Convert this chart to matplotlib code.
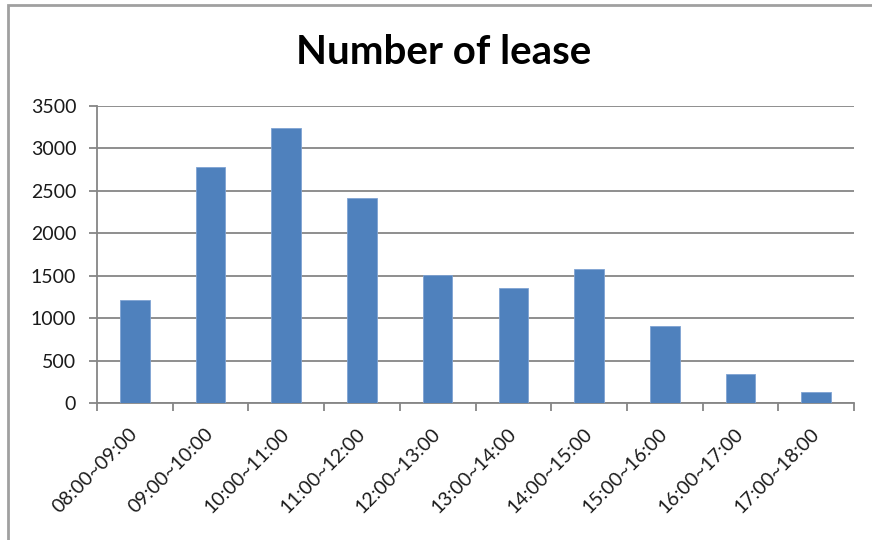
import matplotlib.pyplot as plt
import numpy as np
from matplotlib.patches import Rectangle

# lease counts per hour slot
slots = ['08:00~09:00', '09:00~10:00', '10:00~11:00', '11:00~12:00', '12:00~13:00',
         '13:00~14:00', '14:00~15:00', '15:00~16:00', '16:00~17:00', '17:00~18:00']
counts = [1210, 2780, 3240, 2410, 1510, 1360, 1585, 905, 345, 135]
yticks = [0, 500, 1000, 1500, 2000, 2500, 3000, 3500]

plt.rcParams['font.family'] = ['Lato', 'DejaVu Sans']

fig = plt.figure(figsize=(8.72, 5.4), dpi=100)
ax = fig.add_axes([97/872, 1 - 403/540, (854-97)/872, (403-106)/540])

x = np.arange(len(slots))
ax.bar(x, counts, width=0.39, color='#4F81BD', edgecolor='#7FA3D3', linewidth=0.6, zorder=3)

ax.set_xlim(-0.5, len(slots) - 0.5)
ax.set_ylim(0, 3500)
ax.set_yticks(yticks)
ax.set_yticklabels([str(v) for v in yticks], fontsize=14, color='#1a1a1a')
ax.yaxis.grid(True, color='#868686', linewidth=1.3, zorder=0)
ax.tick_params(axis='y', length=6, width=1.3, color='#868686', pad=9)

ax.set_xticks(x)
ax.set_xticklabels(slots, rotation=45, ha='right', va='center',
                   rotation_mode='anchor', fontsize=14, color='#1a1a1a')
ax.tick_params(axis='x', which='major', length=0, pad=20)
ax.set_xticks(np.arange(-0.5, len(slots)), minor=True)
ax.tick_params(axis='x', which='minor', length=6, width=1.3, color='#868686')

for s in ['top', 'right']:
    ax.spines[s].set_visible(False)
for s in ['left', 'bottom']:
    ax.spines[s].set_color('#868686')
    ax.spines[s].set_linewidth(1.3)

fig.text(444/872, 1 - 53/540, 'Number of lease', fontsize=29, fontweight='bold',
         ha='center', va='center', color='black')

# gray frame from the screenshot
fig.patches.append(Rectangle((8/872, -0.1), 1.2, 1 - 5/540 + 0.1, transform=fig.transFigure,
                             fill=False, edgecolor='#A0A0A0', linewidth=2))

fig.savefig('out.png', dpi=100)
